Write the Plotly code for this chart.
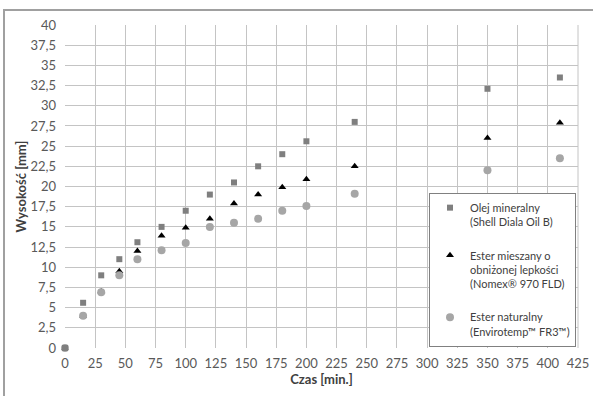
import plotly.graph_objects as go

czas = [0, 15, 30, 45, 60, 80, 100, 120, 140, 160, 180, 200, 240, 350, 410]
olej_mineralny = [0, 5.6, 9.0, 11.0, 13.1, 15.0, 17.0, 19.0, 20.5, 22.5, 24.0, 25.6, 28.0, 32.1, 33.5]
ester_mieszany = [0, 4.0, 7.0, 9.5, 12.0, 13.9, 14.9, 16.0, 17.9, 19.0, 19.9, 20.9, 22.5, 26.0, 27.9]
ester_naturalny = [0, 4.0, 6.9, 9.0, 11.0, 12.1, 13.0, 15.0, 15.5, 16.0, 17.0, 17.6, 19.1, 22.0, 23.5]

names = ["Olej mineralny<br>(Shell Diala Oil B)",
         "Ester mieszany o<br>obniżonej lepkości<br>(Nomex® 970 FLD)",
         "Ester naturalny<br>(Envirotemp™ FR3™)"]

x_ticks = list(range(0, 426, 25))
y_ticks = [i * 2.5 for i in range(17)]
y_labels = [("%g" % v).replace(".", ",") for v in y_ticks]

FONT = "Lato, 'Open Sans', sans-serif"

fig = go.Figure()
# invisible helper subplot spanning the whole chart frame (its axis lines draw the frame)
fig.add_trace(go.Scatter(x=[None], y=[None], xaxis="x2", yaxis="y2", mode="markers",
                         showlegend=False, hoverinfo="skip"))
# drawing order: triangles at the bottom, circles, squares on top
fig.add_trace(go.Scatter(x=czas, y=ester_mieszany, mode="markers", name=names[1],
                         legendgroup="b", legendrank=2, cliponaxis=False,
                         marker=dict(symbol="triangle-up", size=7, color="#000000")))
fig.add_trace(go.Scatter(x=czas, y=ester_naturalny, mode="markers", name=names[2],
                         legendgroup="c", legendrank=3, cliponaxis=False,
                         marker=dict(symbol="circle", size=8, color="#a6a6a6")))
fig.add_trace(go.Scatter(x=czas, y=olej_mineralny, mode="markers", name=names[0],
                         legendgroup="a", legendrank=1, cliponaxis=False,
                         marker=dict(symbol="square", size=6, color="#7f7f7f")))

grid = "#c4c4c4"
frame = "#a0a0a0"
W, H = 593, 396
PL, PT = 5, 11
pw, ph = W - PL, H - PT
X0, X1, Y0, Y1 = 65, 578, 25, 348

fig.update_layout(
    width=W, height=H,
    margin=dict(l=PL, r=0, t=PT, b=0, autoexpand=False),
    paper_bgcolor="white", plot_bgcolor="rgba(0,0,0,0)",
    font=dict(family=FONT, size=13, color="#595959"),
    showlegend=True,
    legend=dict(x=(576 - PL) / pw, y=(H - 193) / ph,
                xanchor="right", yanchor="top", xref="paper", yref="paper",
                bgcolor="white", bordercolor="#808080", borderwidth=1,
                font=dict(family=FONT, size=11, color="#404040"),
                tracegroupgap=16, itemwidth=30, valign="top", traceorder="grouped"),
    xaxis=dict(domain=[(X0 - PL) / pw, (X1 - PL) / pw], anchor="y",
               range=[0, 425], tickvals=x_ticks, ticktext=[str(v) for v in x_ticks],
               showgrid=True, gridcolor=grid, gridwidth=1,
               zeroline=False, showline=False, ticks="", ticklabelstandoff=6,
               title=dict(text="<b>Czas [min.]</b>", font=dict(family=FONT, size=13, color="#404040"), standoff=4)),
    yaxis=dict(domain=[(H - Y1) / ph, (H - Y0) / ph], anchor="x",
               range=[0, 40], tickvals=y_ticks, ticktext=y_labels,
               showgrid=True, gridcolor=grid, gridwidth=1,
               zeroline=False, showline=False, ticks="", ticklabelstandoff=8,
               title=dict(text="<b>Wysokość [mm]</b>", font=dict(family=FONT, size=13, color="#404040"), standoff=0)),
    xaxis2=dict(domain=[0, 1], anchor="y2", side="top", range=[0, 1],
                showline=True, linecolor=frame, linewidth=1.5,
                showgrid=False, zeroline=False, showticklabels=False, ticks=""),
    yaxis2=dict(domain=[0, 1], anchor="x2", side="left", range=[0, 1],
                showline=True, linecolor=frame, linewidth=1.5,
                showgrid=False, zeroline=False, showticklabels=False, ticks=""),
)
# right edge of plot grid
fig.add_shape(type="line", xref="x domain", yref="y domain", x0=1, x1=1, y0=0, y1=1,
              line=dict(color=grid, width=1))

fig.write_html("out.html", config={"displayModeBar": False},
               post_script="document.body.style.margin='0';")
